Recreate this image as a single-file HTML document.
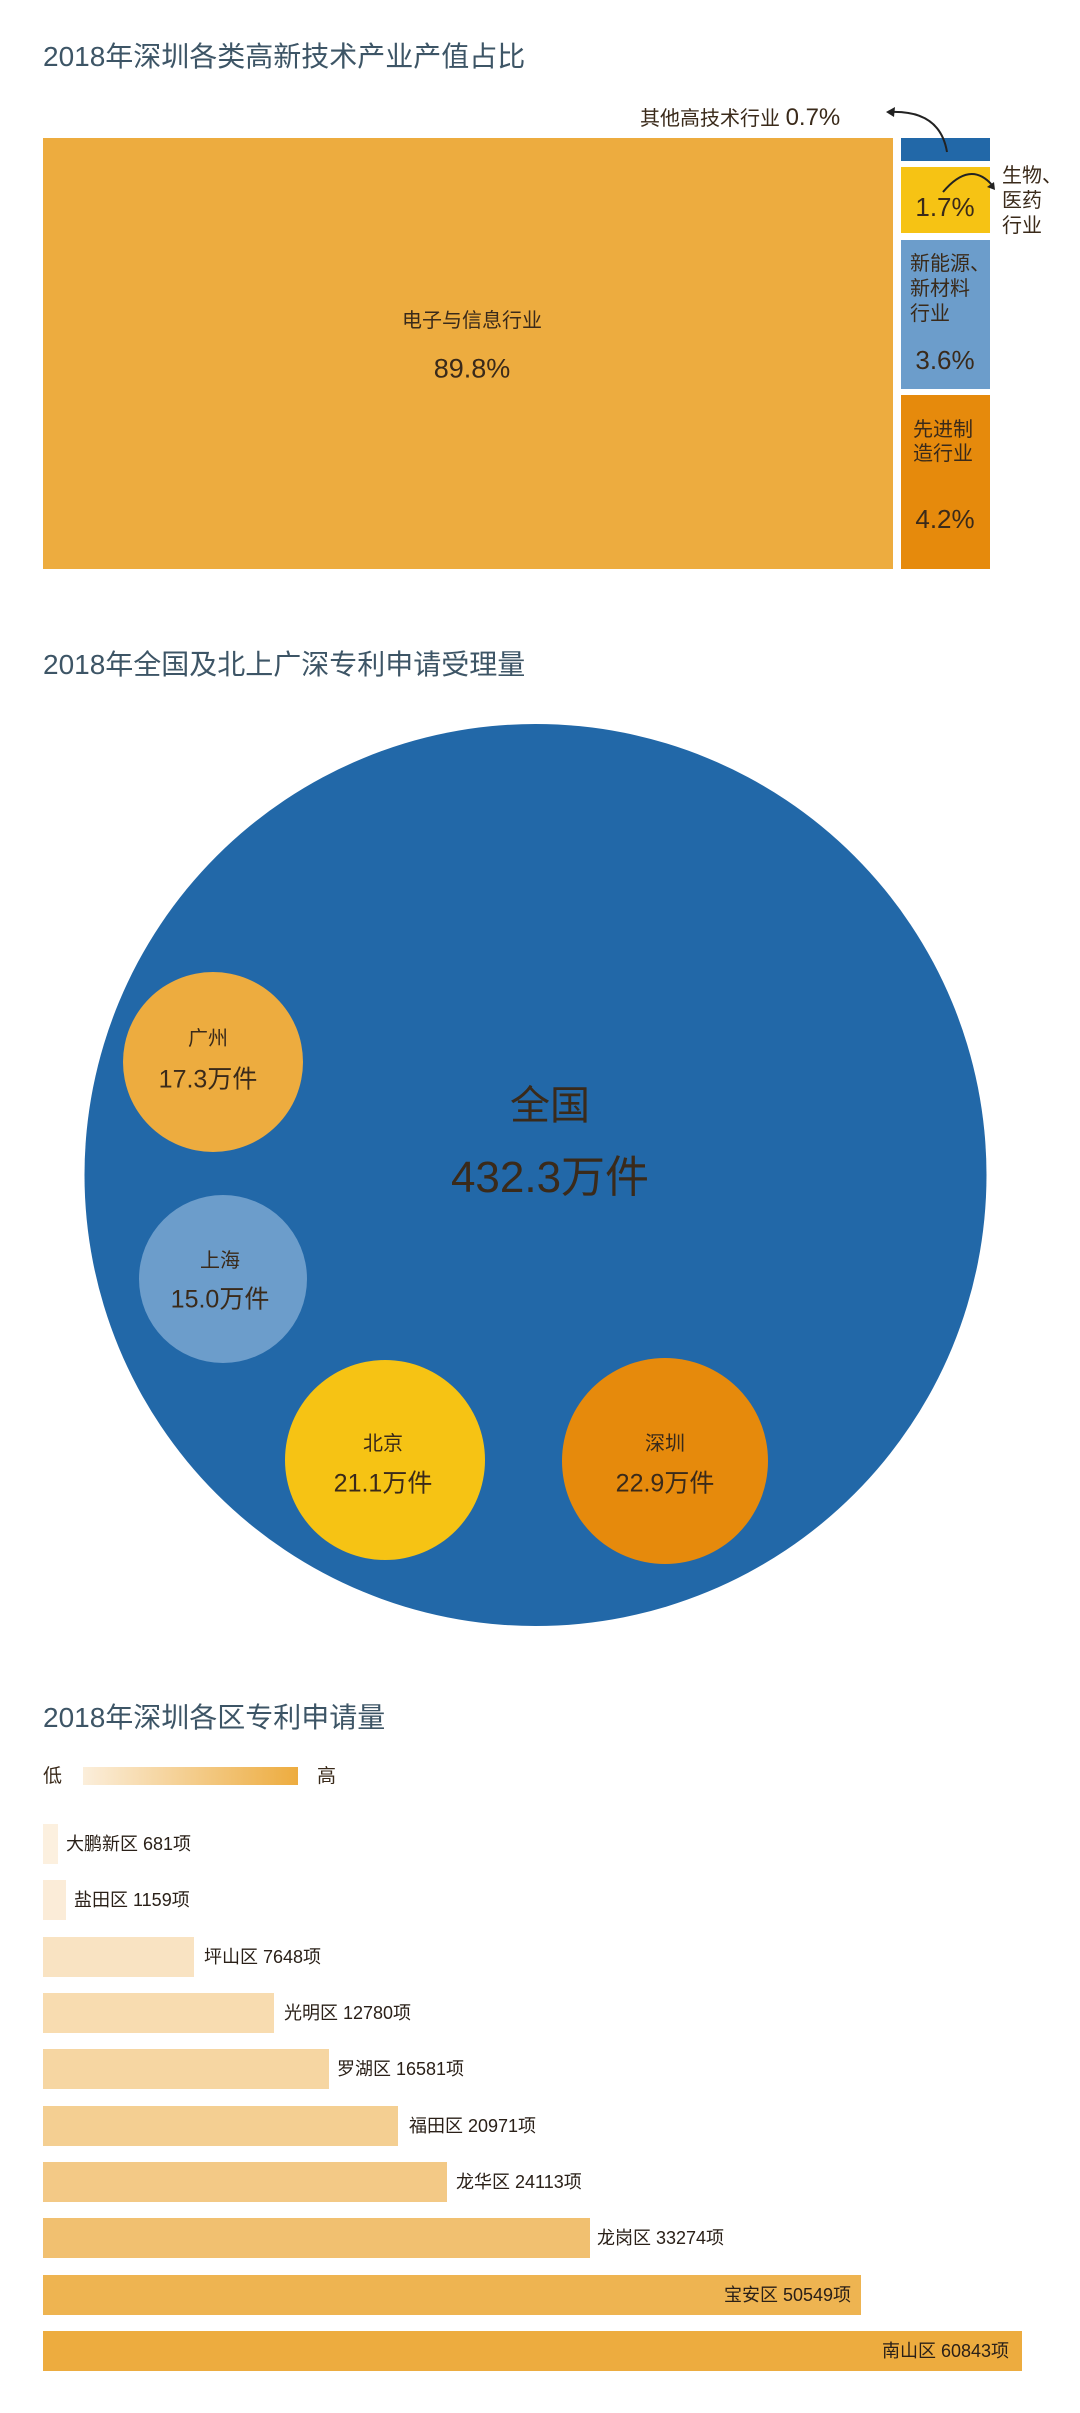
<!DOCTYPE html>
<html><head><meta charset="utf-8"><style>
body{margin:0;width:1080px;height:2413px;background:#fff;position:relative;overflow:hidden;font-family:"Liberation Sans","Noto Sans CJK SC",sans-serif;color:#3a2a1a}
.a{position:absolute;white-space:nowrap;line-height:1}
.t{color:#3d5566;font-size:28px}
.c{transform:translate(-50%,-50%)}
.bar{position:absolute;left:43px;height:40px}
.bl{position:absolute;font-size:18px;line-height:40px;white-space:nowrap;color:#2a2018}
</style></head><body>
<div class="a t" style="left:43px;top:43px">2018年深圳各类高新技术产业产值占比</div>
<div class="a" style="left:43px;top:138px;width:850px;height:431px;background:#EDAC3F"></div>
<div class="a" style="left:901px;top:138px;width:89px;height:23px;background:#2268A8"></div>
<div class="a" style="left:901px;top:167px;width:89px;height:66px;background:#F6C314"></div>
<div class="a" style="left:901px;top:240px;width:89px;height:149px;background:#6C9DCB"></div>
<div class="a" style="left:901px;top:395px;width:89px;height:174px;background:#E68A0C"></div>
<div class="a" style="left:640px;top:106px;font-size:20px">其他高技术行业 <span style="font-size:24px">0.7%</span></div>
<svg class="a" style="left:0;top:0" width="1080" height="600"><path d="M890 112 Q940 110 947 152" fill="none" stroke="#222" stroke-width="2"/><path d="M886 112 l9 -5 l-1 10z" fill="#222"/>
<path d="M943 192 Q970 160 992 185" fill="none" stroke="#222" stroke-width="2"/><path d="M995 190 l-8 -3 l7 -5z" fill="#222"/></svg>
<div class="a" style="left:1002px;top:164px;font-size:20px;line-height:25px">生物、<br>医药<br>行业</div>
<div class="a c" style="left:945px;top:207px;font-size:26px">1.7%</div>
<div class="a" style="left:910px;top:252px;font-size:20px;line-height:25px">新能源、<br>新材料<br>行业</div>
<div class="a c" style="left:945px;top:360px;font-size:26px">3.6%</div>
<div class="a" style="left:913px;top:418px;font-size:20px;line-height:24px">先进制<br>造行业</div>
<div class="a c" style="left:945px;top:519px;font-size:26px">4.2%</div>
<div class="a c" style="left:472px;top:321px;font-size:20px">电子与信息行业</div>
<div class="a c" style="left:472px;top:369px;font-size:27px">89.8%</div>

<div class="a t" style="left:43px;top:651px">2018年全国及北上广深专利申请受理量</div>
<svg class="a" style="left:0;top:0" width="1080" height="1700">
<circle cx="535.5" cy="1175" r="451" fill="#2268A8"/>
<circle cx="213" cy="1062" r="90" fill="#EDAC3F"/>
<circle cx="223" cy="1279" r="84" fill="#6C9DCB"/>
<circle cx="385" cy="1460" r="100" fill="#F6C314"/>
<circle cx="665" cy="1461" r="103" fill="#E68A0C"/>
</svg>
<div class="a c" style="left:550px;top:1106px;font-size:40px">全国</div>
<div class="a c" style="left:550px;top:1178px;font-size:44px">432.3万件</div>
<div class="a c" style="left:208px;top:1039px;font-size:20px">广州</div>
<div class="a c" style="left:208px;top:1080px;font-size:25px">17.3万件</div>
<div class="a c" style="left:220px;top:1261px;font-size:20px">上海</div>
<div class="a c" style="left:220px;top:1300px;font-size:25px">15.0万件</div>
<div class="a c" style="left:383px;top:1444px;font-size:20px">北京</div>
<div class="a c" style="left:383px;top:1484px;font-size:25px">21.1万件</div>
<div class="a c" style="left:665px;top:1444px;font-size:20px">深圳</div>
<div class="a c" style="left:665px;top:1484px;font-size:25px">22.9万件</div>

<div class="a t" style="left:43px;top:1704px">2018年深圳各区专利申请量</div>
<div class="a" style="left:43px;top:1767px;font-size:19px">低</div>
<div class="a" style="left:83px;top:1767px;width:215px;height:18px;background:linear-gradient(90deg,#fbeedb,#EDAC3F)"></div>
<div class="a" style="left:317px;top:1767px;font-size:19px">高</div>

<div class="bar" style="top:1824px;width:15px;background:#fcf0df"></div><div class="bl" style="top:1824px;left:66px">大鹏新区 681项</div>
<div class="bar" style="top:1880px;width:23px;background:#fbecd8"></div><div class="bl" style="top:1880px;left:74px">盐田区 1159项</div>
<div class="bar" style="top:1937px;width:151px;background:#f9e3c2"></div><div class="bl" style="top:1937px;left:204px">坪山区 7648项</div>
<div class="bar" style="top:1993px;width:231px;background:#f8dcb0"></div><div class="bl" style="top:1993px;left:284px">光明区 12780项</div>
<div class="bar" style="top:2049px;width:286px;background:#f6d6a2"></div><div class="bl" style="top:2049px;left:337px">罗湖区 16581项</div>
<div class="bar" style="top:2106px;width:355px;background:#f4cf92"></div><div class="bl" style="top:2106px;left:409px">福田区 20971项</div>
<div class="bar" style="top:2162px;width:404px;background:#f3c986"></div><div class="bl" style="top:2162px;left:456px">龙华区 24113项</div>
<div class="bar" style="top:2218px;width:547px;background:#f1c070"></div><div class="bl" style="top:2218px;left:597px">龙岗区 33274项</div>
<div class="bar" style="top:2275px;width:818px;background:#eeb451"></div><div class="bl" style="top:2275px;left:724px">宝安区 50549项</div>
<div class="bar" style="top:2331px;width:979px;background:#EDAC3F"></div><div class="bl" style="top:2331px;left:882px">南山区 60843项</div>
</body></html>
